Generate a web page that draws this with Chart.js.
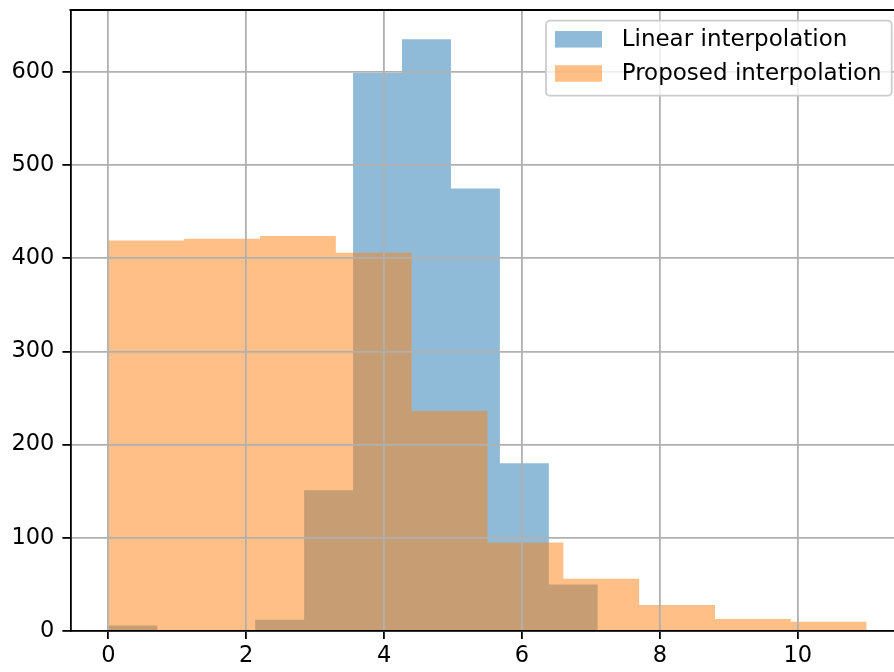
<!DOCTYPE html>
<html><head><meta charset="utf-8">
<script src="https://cdn.jsdelivr.net/npm/chart.js@4/dist/chart.umd.min.js"></script>
<style>
html,body{margin:0;padding:0;overflow:hidden;background:#fff;width:894px;height:672px}
#wrap{position:absolute;left:0;top:0;width:920px;height:672px}
</style>
</head><body><div id="wrap"><canvas id="c" width="920" height="672"></canvas></div>
<script>
// Histogram bin edges and counts
const linearEdges = [0, 0.71, 1.42, 2.13, 2.84, 3.55, 4.26, 4.97, 5.68, 6.39, 7.1];
const linearCounts = [6, 0, 0, 12, 151, 599, 635, 475, 180, 50];
const proposedEdges = [0, 1.1, 2.2, 3.3, 4.4, 5.5, 6.6, 7.7, 8.8, 9.9, 11];
const proposedCounts = [419, 421, 424, 406, 236, 95, 56, 28, 13, 10];
const seriesLabels = ['Linear interpolation', 'Proposed interpolation'];
const xTicks = [0, 2, 4, 6, 8, 10];
const yTicks = [0, 100, 200, 300, 400, 500, 600];

const FONT = '"DejaVu Sans", "Liberation Sans", sans-serif';
const FS = 22.5;
const LFS = 23;

function stepPoints(edges, counts) {
  const pts = [{x: edges[0], y: 0}];
  counts.forEach((c, i) => pts.push({x: edges[i], y: c}));
  pts.push({x: edges[edges.length - 1], y: counts[counts.length - 1]});
  pts.push({x: edges[edges.length - 1], y: 0});
  return pts;
}

const framePlugin = {
  id: 'frameAndLegend',
  afterDraw(chart) {
    const ctx = chart.ctx, ca = chart.chartArea;
    ctx.save();
    ctx.strokeStyle = '#000';
    ctx.lineWidth = 1.8;
    ctx.beginPath();
    ctx.moveTo(ca.left - 0.9, ca.top); ctx.lineTo(ca.right, ca.top);
    ctx.moveTo(ca.right, ca.top); ctx.lineTo(ca.right, ca.bottom);
    ctx.stroke();
    ctx.font = LFS + 'px ' + FONT;
    const tw = Math.max(...seriesLabels.map(t => ctx.measureText(t).width));
    const padL = 9, patchW = 47, patchH = 16.5, gap = 19.7, padR = 10;
    const boxW = padL + patchW + gap + tw + padR, boxH = 75;
    const right = ca.right - 12.9, top = ca.top + 10.7, left = right - boxW;
    ctx.beginPath();
    ctx.roundRect(left, top, boxW, boxH, 4);
    ctx.fillStyle = 'rgba(255,255,255,0.8)';
    ctx.fill();
    ctx.strokeStyle = '#cccccc';
    ctx.lineWidth = 1.8;
    ctx.stroke();
    const rows = [top + 18.6, top + 52.8];
    chart.data.datasets.forEach((ds, i) => {
      const cy = rows[i];
      ctx.fillStyle = ds.backgroundColor;
      ctx.fillRect(left + padL, cy - patchH / 2, patchW, patchH);
      ctx.fillStyle = '#000';
      ctx.textBaseline = 'middle';
      ctx.textAlign = 'left';
      ctx.fillText(ds.label, left + padL + patchW + gap, cy + 1);
    });
    ctx.restore();
  }
};

const gridOpts = {color: '#b0b0b0', lineWidth: 1.8, tickLength: 8, tickColor: '#000', tickWidth: 1.8, z: 1};
const borderOpts = {display: true, color: '#000', width: 1.8, z: 2};

new Chart(document.getElementById('c'), {
  type: 'line',
  data: {
    datasets: [
      {label: seriesLabels[0], data: stepPoints(linearEdges, linearCounts),
       backgroundColor: 'rgba(31,119,180,0.5)', borderColor: 'rgba(0,0,0,0)', borderWidth: 0,
       pointRadius: 0, stepped: 'before', fill: 'origin', order: 2},
      {label: seriesLabels[1], data: stepPoints(proposedEdges, proposedCounts),
       backgroundColor: 'rgba(255,127,14,0.5)', borderColor: 'rgba(0,0,0,0)', borderWidth: 0,
       pointRadius: 0, stepped: 'before', fill: 'origin', order: 1}
    ]
  },
  options: {
    responsive: false, animation: false, devicePixelRatio: 1,
    layout: {padding: {top: 10, right: 15.4, left: 0, bottom: 0}},
    plugins: {legend: {display: false}, tooltip: {enabled: false}},
    scales: {
      x: {
        type: 'linear', min: -0.55, max: 11.55,
        afterBuildTicks: s => { s.ticks = xTicks.map(v => ({value: v})); },
        afterFit: s => { s.height = 41; s.paddingLeft = 0; s.paddingRight = 0; },
        ticks: {font: {family: FONT, size: FS}, color: '#000', padding: 4, maxRotation: 0, autoSkip: false,
                callback: v => String(v)},
        grid: gridOpts, border: borderOpts
      },
      y: {
        type: 'linear', min: 0, max: 666.5,
        afterBuildTicks: s => { s.ticks = yTicks.map(v => ({value: v})); },
        afterFit: s => { s.width = 70.4; s.paddingTop = 0; s.paddingBottom = 0; },
        ticks: {font: {family: FONT, size: FS}, color: '#000', padding: 8, autoSkip: false,
                callback: v => String(v)},
        grid: gridOpts, border: borderOpts
      }
    }
  },
  plugins: [framePlugin]
});
</script>
</body></html>
